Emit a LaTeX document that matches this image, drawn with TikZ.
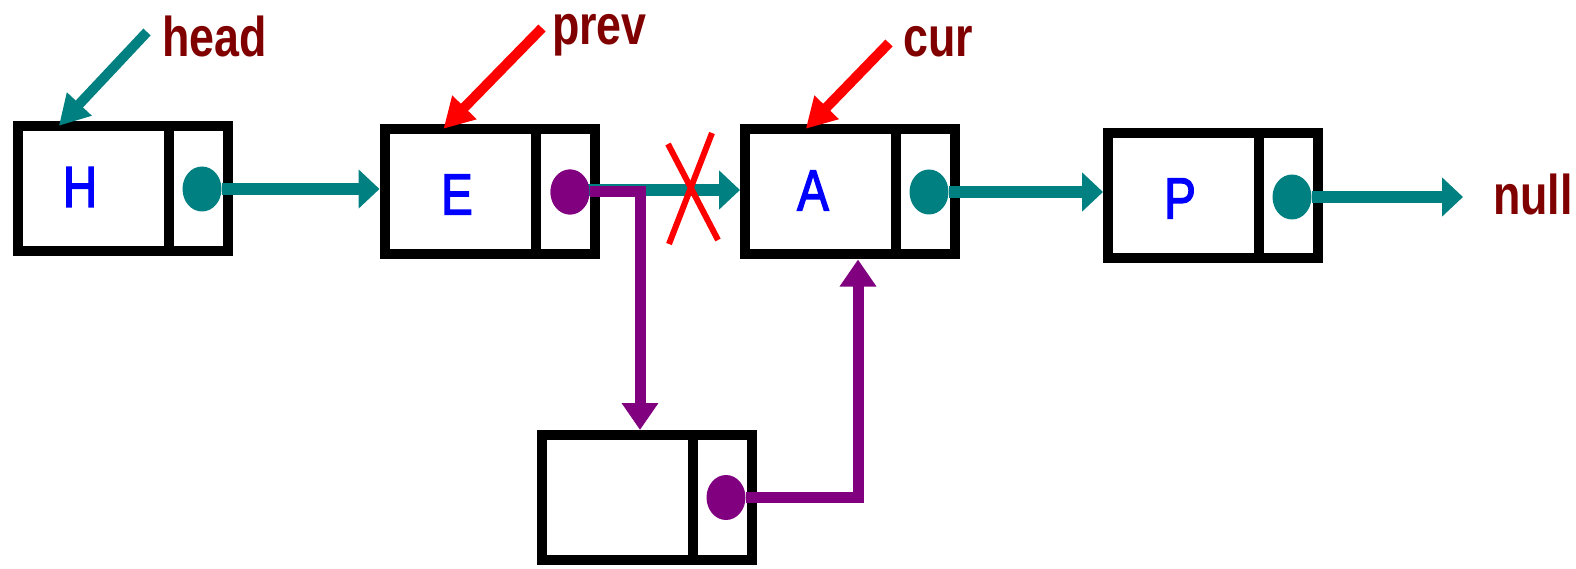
\documentclass[tikz,border=0pt]{standalone}
\usepackage{fontspec}
\setmainfont{Liberation Sans}
\newfontfamily\valfont[FakeBold=2.5]{Liberation Sans}
\usetikzlibrary{arrows.meta,shapes.geometric,calc}
\definecolor{tealc}{HTML}{008080}
\definecolor{purplec}{HTML}{800080}
\definecolor{darkredc}{HTML}{800000}
\definecolor{bluec}{HTML}{0000FF}
\definecolor{redc}{HTML}{FF0000}
\begin{document}
\begin{tikzpicture}[x=1pt,y=-1pt,
  listbox/.style={draw=black,line width=10pt,minimum width=210pt,minimum height=125pt,inner sep=0pt,fill=white},
  divider/.style={draw=black,line width=10pt},
  ptrdot/.style={ellipse,inner sep=0pt,minimum width=39pt,minimum height=45pt},
  lbl/.style={text=darkredc,font=\fontsize{56}{60}\selectfont\bfseries,inner sep=0pt,anchor=base west,xscale=0.8},
  val/.style={text=bluec,font=\fontsize{58}{60}\valfont,inner sep=0pt,xscale=0.82},
  tealarrow/.style={draw=tealc,line width=12pt,-{Triangle[length=21pt,width=38pt]}},
  purplearrow/.style={draw=purplec,line width=11pt,-{Triangle[length=27pt,width=35pt]}},
  labelarrow/.style={line width=10pt,-{Triangle[length=30pt,width=32pt]},shorten >=-6pt},
]
\useasboundingbox (0,0) rectangle (1576,569);
\fill[white] (0,0) rectangle (1576,569);

% list nodes
\node[listbox] (H) at (123,189) {};
\node[listbox] (E) at (489.5,192) {};
\node[listbox] (A) at (850,192) {};
\node[listbox] (P) at (1213,196) {};
\node[listbox] (N) at (647,497.5) {};
\foreach \n in {H,E,A,P,N}
  \draw[divider] ([xshift=46pt]\n.north) -- ([xshift=46pt]\n.south);

% values
\node[val] (hv) at (80,187) {H};
\node[val] (ev) at (457,194.5) {E};
\node[val] (av) at (813,190.5) {A};
\node[val] (pv) at (1180,198.5) {P};

% labels
\node[lbl] (head) at (162,57) {head};
\node[lbl] (prev) at (552,45) {prev};
\node[lbl] (cur) at (903,57) {cur};
\node[lbl] (null) at (1493,215) {null};

\coordinate (headtail) at (147,32);
\coordinate (prevtail) at (542,28);
\coordinate (curtail) at (889,43);

% pointer dots
\node[ptrdot,fill=tealc] (hd) at (202,189) {};
\node[ptrdot,fill=purplec] (ed) at (570,192) {};
\node[ptrdot,fill=tealc] (ad) at (929,192) {};
\node[ptrdot,fill=tealc] (pd) at (1292,197) {};
\node[ptrdot,fill=purplec] (nd) at (726,497.5) {};

% next links
\draw[tealarrow] (hd) -- (hd -| E.west);
\draw[tealarrow] ([yshift=2pt]ed.center) -- ([yshift=2pt]ed.center -| A.west);
\draw[tealarrow] (ad) -- (ad -| P.west);
\draw[tealarrow,shorten >=30pt] (pd) -- (pd -| null.west);

% removed link
\draw[redc,line width=6pt] (668,144) -- (718,240);
\draw[redc,line width=6pt] (712,133) -- (669,244);

% new links
\draw[purplearrow] (ed) -| ([xshift=-7pt]N.north);
\draw[purplearrow] (nd) -| ([xshift=8pt]A.south);
\node[ptrdot,fill=purplec] at (ed) {};

% label pointers
\draw[labelarrow,draw=tealc,fill=tealc] (headtail) -- ($(H.north west)!0.227!(H.north east)$);
\draw[labelarrow,draw=redc,fill=redc] (prevtail) -- ($(E.north west)!0.31!(E.north east)$);
\draw[labelarrow,draw=redc,fill=redc] (curtail) -- ($(A.north west)!0.318!(A.north east)$);
\end{tikzpicture}
\end{document}
